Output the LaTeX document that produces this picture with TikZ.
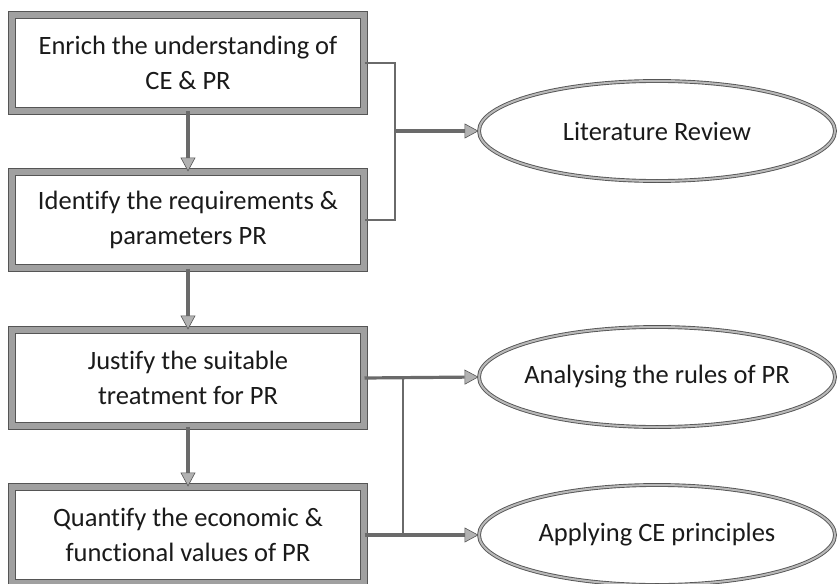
\documentclass[tikz,border=0pt]{standalone}
\usepackage{fontspec}
\setmainfont[Ligatures=CommonOff]{Carlito}
\usetikzlibrary{arrows.meta,shapes.geometric}
\definecolor{txt}{HTML}{1A1A1A}
\definecolor{frameDark}{HTML}{555555}
\definecolor{frameMid}{HTML}{A0A0A0}
\definecolor{lineGray}{HTML}{6A6A6A}
\tikzset{
  stepbox/.style={rectangle, minimum width=352pt, minimum height=96pt,
    fill=white, draw=frameDark, double=frameMid, double distance=5.5pt,
    line width=1pt, align=center, text=txt,
    font=\fontsize{26.5}{35}\selectfont},
  goal/.style={ellipse, minimum width=356pt, minimum height=100pt,
    inner sep=0pt, fill=white, draw=frameDark, double=gray!55,
    double distance=2pt, line width=0.9pt},
  goaltext/.style={text=txt, font=\fontsize{26.5}{30}\selectfont},
  tip/.style={-{Triangle[length=14pt,width=15pt,fill=gray!60,color=frameDark,line width=0.6pt]}},
  flow/.style={tip, draw=lineGray, line width=3.2pt},
  link/.style={draw=lineGray, line width=2pt},
}
\begin{document}
\begin{tikzpicture}[x=1pt,y=-1pt]
  \useasboundingbox (0,0) rectangle (837,583);
  \begin{scope}
    \clip (0,0) rectangle (837,583);
    % process steps
    \node[stepbox] (s1) at (188,63)  {Enrich the understanding of\\CE \& PR};
    \node[stepbox] (s2) at (188,220) {Identify the requirements \&\\parameters PR};
    \node[stepbox] (s3) at (188,378) {Justify the suitable\\treatment for PR};
    \node[stepbox] (s4) at (188,535) {Quantify the economic \&\\functional values of PR};
    % outcomes (fixed-size ellipses, text set as a centred label)
    \node[goal, label={[goaltext]center:Literature Review}] (o1) at (657,131) {};
    \node[goal, label={[goaltext]center:Analysing the rules of PR}] (o2) at (657,377) {};
    \node[goal, label={[goaltext]center:Applying CE principles}] (o3) at (657,535) {};
    % junction points of the brackets
    \coordinate (j1) at (395,131);
    \coordinate (j2) at (403,377);
    % vertical flow between steps
    \draw[flow] (s1.south) -- (s2.north);
    \draw[flow] (s2.south) -- (s3.north);
    \draw[flow] (s3.south) -- (s4.north);
    % first bracket
    \draw[link] (s1.east) -| (j1) |- (s2.east);
    \draw[flow] (j1) -- (o1.west);
    % second bracket
    \draw[flow] (s3.east) -- (o2.west);
    \draw[link] (j2) |- (s4.east);
    \draw[flow] (s4.east) -- (o3.west);
  \end{scope}
\end{tikzpicture}
\end{document}
